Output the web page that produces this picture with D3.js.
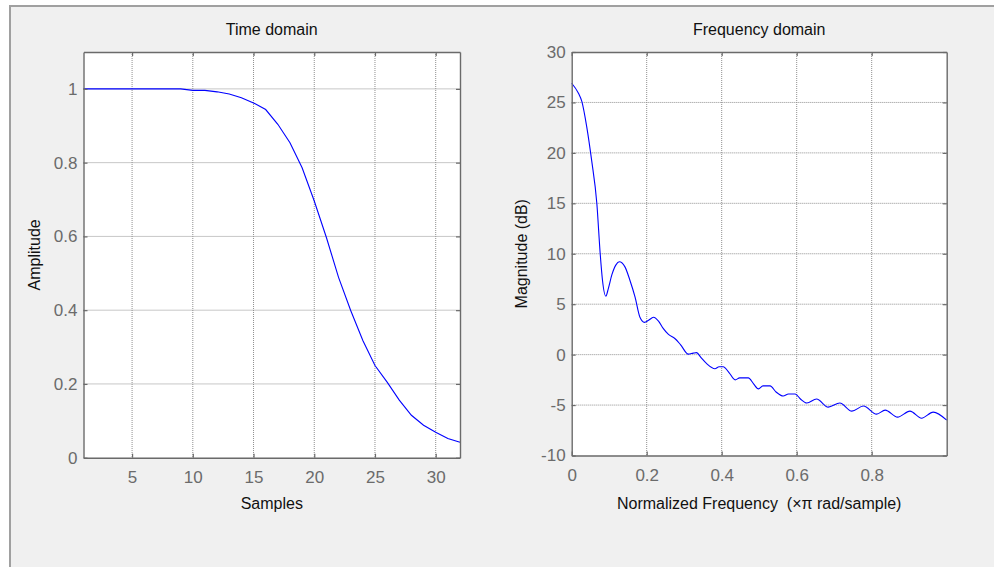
<!DOCTYPE html>
<html>
<head>
<meta charset="utf-8">
<script src="https://cdn.jsdelivr.net/npm/d3@7"></script>
<style>
  body { margin: 0; background: #fff; }
  svg { display: block; font-family: Arial, "Liberation Sans", sans-serif; }
  .tick text { fill: #6b6b6b; }
  .domain, .tick line { stroke: #6a6a6a; }
  .grid { stroke: #8f8f8f; stroke-dasharray: 1,1; stroke-width: 1; }
  .title, .label { fill: #111; font-size: 16px; white-space: pre; }
</style>
</head>
<body>
<div id="container"></div>
<script>
/* CONSTANTS AND GLOBALS */
const width = 994
const height = 567

// time domain (window samples)
const samples = [1,2,3,4,5,6,7,8,9,10,11,12,13,14,15,16,17,18,19,20,21,22,23,24,25,26,27,28,29,30,31,32]
const amplitude = [1,1,1,1,1,1,1,1,1,0.996,0.996,0.992,0.986,0.976,0.962,0.944,0.904,0.854,0.786,0.696,
  0.597,0.489,0.399,0.318,0.25,0.205,0.156,0.115,0.088,0.069,0.052,0.042]

// frequency domain
const freq = [0,0.018,0.027,0.04,0.053,0.067,0.076,0.082,0.091,0.098,0.107,0.118,0.127,0.142,0.155,0.169,
  0.182,0.194,0.205,0.218,0.232,0.244,0.258,0.275,0.29,0.311,0.324,0.333,0.345,0.36,0.382,0.393,0.404,
  0.42,0.436,0.448,0.471,0.485,0.498,0.51,0.529,0.545,0.564,0.578,0.596,0.61,0.627,0.653,0.684,0.715,
  0.747,0.778,0.813,0.836,0.869,0.902,0.933,0.964,1.0]
const magDb = [26.9,25.9,25.1,22.6,19.3,15.0,10.0,7.4,5.8,6.6,7.9,8.9,9.2,8.7,7.4,5.7,
  3.7,3.2,3.4,3.7,3.3,2.6,2.0,1.6,1.0,0.05,0.15,0.2,-0.3,-0.9,-1.4,-1.2,-1.2,
  -1.8,-2.5,-2.3,-2.3,-2.9,-3.4,-3.1,-3.1,-3.7,-4.1,-3.9,-3.9,-4.4,-4.8,-4.4,-5.2,-4.8,
  -5.6,-5.1,-5.9,-5.5,-6.2,-5.6,-6.3,-5.7,-6.5]

// ticks
const timeXTicks = [5,10,15,20,25,30]
const timeYTicks = [0,0.2,0.4,0.6,0.8,1]
const freqXTicks = [0,0.2,0.4,0.6,0.8]
const freqYTicks = [-10,-5,0,5,10,15,20,25,30]

const svg = d3.select("#container")
  .append("svg")
  .attr("width", width)
  .attr("height", height)

// figure background
svg.append("rect")
  .attr("x", 10).attr("y", 6)
  .attr("width", 1000).attr("height", 600)
  .attr("fill", "#f0f0f0")
  .attr("stroke", "#a0a0a0")
  .attr("stroke-width", 2)

function panel(cfg) {
  const { left, right, top, bottom } = cfg
  const xScale = d3.scaleLinear().domain(cfg.xDomain).range([left, right])
  const yScale = d3.scaleLinear().domain(cfg.yDomain).range([bottom, top])

  const g = svg.append("g")

  g.append("rect")
    .attr("x", left).attr("y", top)
    .attr("width", right - left).attr("height", bottom - top)
    .attr("fill", "#fff")

  // GRID
  g.selectAll(".gx")
    .data(cfg.xTicks.filter(d => xScale(d) > left + 1 && xScale(d) < right - 1))
    .join("line")
    .attr("class", "grid")
    .attr("x1", d => xScale(d)).attr("x2", d => xScale(d))
    .attr("y1", top).attr("y2", bottom)

  g.selectAll(".gy")
    .data(cfg.yTicks.filter(d => yScale(d) > top + 1 && yScale(d) < bottom - 1))
    .join("line")
    .attr("class", "grid")
    .attr("x1", left).attr("x2", right)
    .attr("y1", d => yScale(d)).attr("y2", d => yScale(d))

  // LINE
  const line = d3.line()
    .x(d => xScale(d[0]))
    .y(d => yScale(d[1]))
    .curve(cfg.curve)

  g.append("path")
    .datum(cfg.data)
    .attr("fill", "none")
    .attr("stroke", "#0000ff")
    .attr("stroke-width", 1.1)
    .attr("d", line)

  // AXES (ticks point inward, like matlab)
  g.append("g")
    .attr("transform", `translate(0, ${bottom})`)
    .call(d3.axisBottom(xScale).tickValues(cfg.xTicks).tickSizeInner(-4).tickSizeOuter(0).tickPadding(13).tickFormat(cfg.xFormat))
  g.append("g")
    .attr("transform", `translate(0, ${top})`)
    .call(d3.axisTop(xScale).tickValues(cfg.xTicks).tickSizeInner(-4).tickSizeOuter(0).tickFormat(""))
  g.append("g")
    .attr("transform", `translate(${left}, 0)`)
    .call(d3.axisLeft(yScale).tickValues(cfg.yTicks).tickSizeInner(-4).tickSizeOuter(0).tickPadding(6).tickFormat(cfg.yFormat))
  g.append("g")
    .attr("transform", `translate(${right}, 0)`)
    .call(d3.axisRight(yScale).tickValues(cfg.yTicks).tickSizeInner(-4).tickSizeOuter(0).tickFormat(""))

  g.selectAll(".domain").attr("stroke-width", 1.4)
  g.selectAll(".tick line").attr("stroke-width", 1.2)
  g.selectAll(".tick text").attr("font-size", 17)

  // TITLES / LABELS
  g.append("text")
    .attr("class", "title")
    .attr("x", (left + right) / 2).attr("y", 35)
    .attr("text-anchor", "middle")
    .text(cfg.title)

  g.append("text")
    .attr("class", "label")
    .attr("x", (left + right) / 2).attr("y", 509)
    .attr("text-anchor", "middle")
    .text(cfg.xLabel)

  g.append("text")
    .attr("class", "label")
    .attr("transform", `translate(${cfg.yLabelX}, ${(top + bottom) / 2}) rotate(-90)`)
    .attr("text-anchor", "middle")
    .text(cfg.yLabel)
}

panel({
  left: 83.5, right: 460, top: 52, bottom: 457.7,
  xDomain: [1, 32], yDomain: [0, 1.1],
  xTicks: timeXTicks, yTicks: timeYTicks,
  xFormat: d3.format("d"), yFormat: d => d,
  data: samples.map((s, i) => [s, amplitude[i]]),
  curve: d3.curveLinear,
  title: "Time domain", xLabel: "Samples", yLabel: "Amplitude", yLabelX: 40
})

panel({
  left: 571.7, right: 946.7, top: 52, bottom: 455.5,
  xDomain: [0, 1], yDomain: [-10, 30],
  xTicks: freqXTicks, yTicks: freqYTicks,
  xFormat: d => d, yFormat: d => d,
  data: freq.map((f, i) => [f, magDb[i]]),
  curve: d3.curveMonotoneX,
  title: "Frequency domain", xLabel: "Normalized Frequency  (\u00d7\u03c0 rad/sample)", yLabel: "Magnitude (dB)", yLabelX: 527
})
</script>
</body>
</html>
